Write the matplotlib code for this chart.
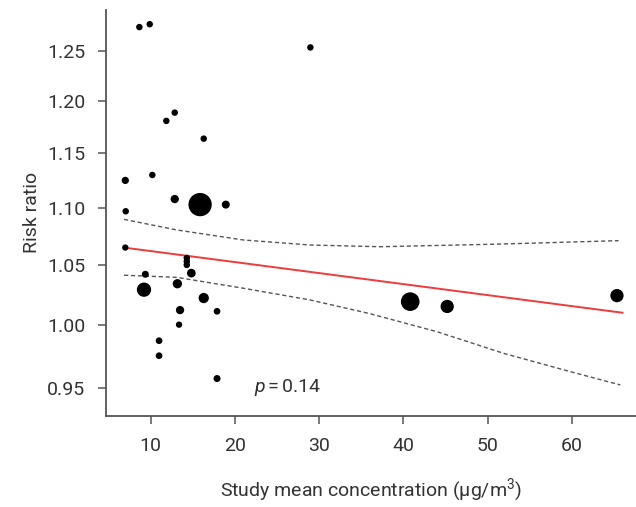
import numpy as np
import matplotlib
matplotlib.use("Agg")
import matplotlib.pyplot as plt
from matplotlib.ticker import FixedLocator, FormatStrFormatter, NullLocator

plt.rcParams["font.family"] = ["Roboto", "DejaVu Sans"]
plt.rcParams["font.stretch"] = "condensed"
plt.rcParams["mathtext.fontset"] = "custom"
plt.rcParams["mathtext.rm"] = "Roboto"
plt.rcParams["mathtext.it"] = "Roboto:italic"

# study mean concentration and risk ratio, one entry per study
concentration = [8.65, 9.88, 28.95, 11.85, 12.85, 16.29, 6.98, 10.19, 12.85, 15.86,
                 18.91, 7.03, 6.98, 9.36, 9.20, 14.28, 14.28, 14.28, 14.82, 13.16,
                 16.29, 13.48, 13.36, 17.87, 10.99, 10.99, 17.87, 40.80, 45.19, 65.34]
risk_ratio = [1.275, 1.278, 1.254, 1.181, 1.189, 1.164, 1.125, 1.130, 1.108, 1.103,
              1.103, 1.097, 1.065, 1.042, 1.029, 1.056, 1.053, 1.050, 1.043, 1.034,
              1.022, 1.012, 1.000, 1.011, 0.987, 0.975, 0.957, 1.019, 1.015, 1.024]
# relative study weight (drives marker area)
weights = [10.5, 10.5, 10.5, 10.5, 10.5, 10.5, 13.3, 10.5, 17.2, 136,
           16, 10.5, 10, 12.3, 51, 10.5, 10.5, 10.5, 19, 21.6,
           26.5, 17.2, 10, 11.2, 11.2, 11.2, 12.3, 87, 44, 44]

# meta-regression fit line (ends) and its confidence band
fit_x = [6.9, 66.0]
fit_y = [1.0649, 1.0098]
band_upper_x = [6.83, 13.09, 21.0, 28.92, 37.23, 51.88, 65.53]
band_upper_y = [1.0898, 1.0804, 1.0716, 1.0672, 1.0657, 1.0681, 1.0710]
band_lower_x = [6.83, 13.09, 21.0, 28.92, 36.04, 43.97, 51.88, 59.80, 65.74]
band_lower_y = [1.0412, 1.0394, 1.0302, 1.0204, 1.0090, 0.9943, 0.9769, 0.9624, 0.9520]

x_ticks = [10, 20, 30, 40, 50, 60]
y_ticks = [0.95, 1.00, 1.05, 1.10, 1.15, 1.20, 1.25]

fig = plt.figure(figsize=(6.36, 5.07), dpi=100)
ax = fig.add_axes([106 / 636, 1 - 415.7 / 507, 530 / 636, 405.7 / 507])

ax.plot(band_upper_x, band_upper_y, color="#555555", lw=1.0, ls=(0, (3, 2)))
ax.plot(band_lower_x, band_lower_y, color="#555555", lw=1.0, ls=(0, (3, 2)))
ax.plot(fit_x, fit_y, color="#ee3b3b", lw=1.4)
ax.scatter(concentration, risk_ratio, s=np.array(weights) * 2.07,
           color="black", linewidths=0, zorder=3)

ax.set_yscale("log")
ax.set_xlim(4.69, 67.6)
ax.set_ylim(0.9284, 1.2929)
ax.xaxis.set_major_locator(FixedLocator(x_ticks))
ax.yaxis.set_major_locator(FixedLocator(y_ticks))
ax.yaxis.set_minor_locator(NullLocator())
ax.yaxis.set_major_formatter(FormatStrFormatter("%.2f"))
ax.xaxis.set_minor_locator(NullLocator())

for side in ["top", "right"]:
    ax.spines[side].set_visible(False)
for side in ["left", "bottom"]:
    ax.spines[side].set_color("#555555")
    ax.spines[side].set_linewidth(1.3)
ax.tick_params(axis="both", colors="#555555", length=6, width=1.1,
               labelsize=14, labelcolor="#333333")
ax.tick_params(axis="y", pad=9)
ax.tick_params(axis="x", pad=9)

ax.set_xlabel("Study mean concentration (μg/m$^{3}$)", fontsize=14,
              color="#333333", labelpad=16)
ax.set_ylabel("Risk ratio", fontsize=14, color="#333333", labelpad=4)

ax.text(22.27, 0.9465, r"$p\,$=$\,$0.14", fontsize=14, color="#333333",
        va="baseline", ha="left")

fig.savefig("out.png", dpi=100)
